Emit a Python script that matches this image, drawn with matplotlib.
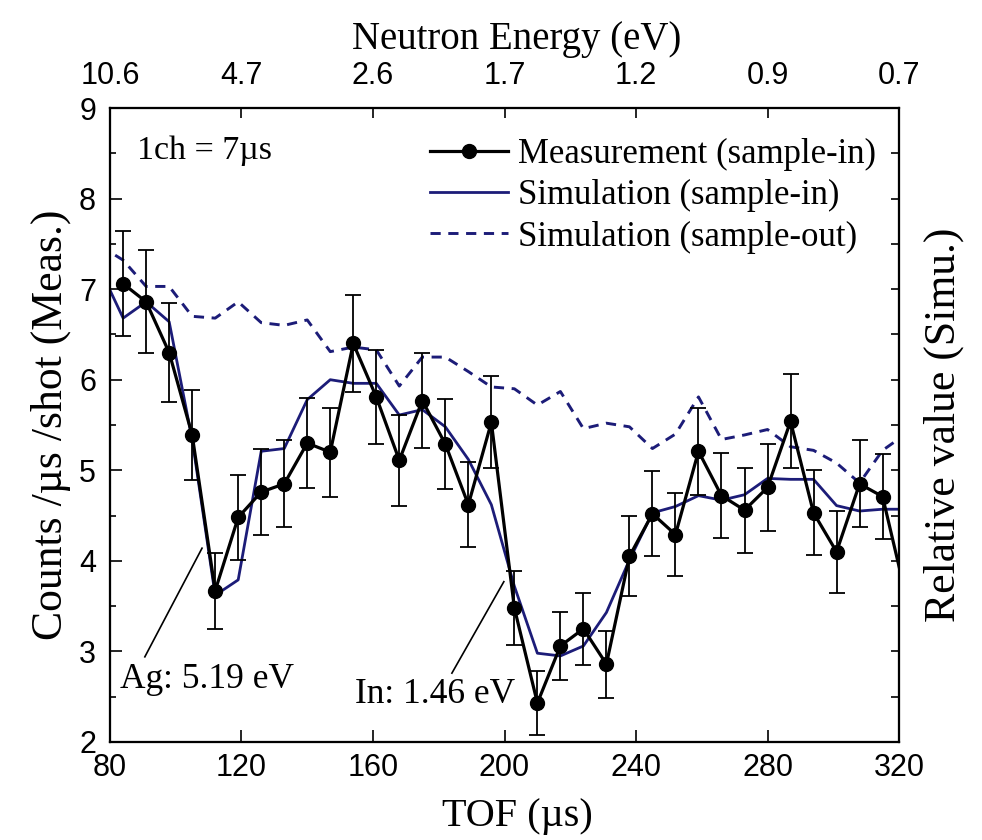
import matplotlib
matplotlib.use("Agg")
import matplotlib.pyplot as plt
from matplotlib.lines import Line2D

# measured spectrum, 1 channel = 7 us
tof_meas = [84, 91, 98, 105, 112, 119, 126, 133, 140, 147, 154, 161, 168, 175,
            182, 189, 196, 203, 210, 217, 224, 231, 238, 245, 252, 259, 266,
            273, 280, 287, 294, 301, 308, 315, 322]
counts_meas = [7.06, 6.86, 6.30, 5.39, 3.67, 4.48, 4.76, 4.85, 5.30, 5.20, 6.40,
               5.81, 5.11, 5.77, 5.29, 4.62, 5.53, 3.48, 2.43, 3.06, 3.25, 2.86,
               4.05, 4.52, 4.29, 5.21, 4.72, 4.56, 4.81, 5.54, 4.53, 4.10, 4.85,
               4.71, 3.63]
err_meas = [0.58, 0.57, 0.55, 0.50, 0.42, 0.47, 0.48, 0.48, 0.50, 0.49, 0.54,
            0.52, 0.50, 0.52, 0.50, 0.47, 0.51, 0.41, 0.35, 0.38, 0.40, 0.37,
            0.44, 0.47, 0.46, 0.48, 0.47, 0.47, 0.48, 0.52, 0.47, 0.45, 0.48,
            0.47, 0.42]

# simulations (relative value)
tof_sim = [77, 84, 91, 98, 105, 112, 119, 126, 133, 140, 147, 154, 161, 168,
           175, 182, 189, 196, 203, 210, 217, 224, 231, 238, 245, 252, 259,
           266, 273, 280, 287, 294, 301, 308, 315, 322]
sim_in = [7.22, 6.68, 6.86, 6.64, 5.34, 3.62, 3.79, 5.21, 5.24, 5.78, 6.00,
          5.96, 5.96, 5.61, 5.67, 5.48, 5.12, 4.62, 3.72, 2.98, 2.95, 3.06,
          3.43, 4.01, 4.53, 4.60, 4.72, 4.67, 4.73, 4.91, 4.90, 4.90, 4.61,
          4.55, 4.57, 4.57]
sim_out = [7.48, 7.32, 7.03, 7.03, 6.70, 6.68, 6.86, 6.63, 6.60, 6.66, 6.31,
           6.36, 6.33, 5.93, 6.25, 6.25, 6.09, 5.92, 5.90, 5.72, 5.87, 5.46,
           5.52, 5.48, 5.24, 5.40, 5.81, 5.34, 5.39, 5.45, 5.26, 5.22, 5.08,
           4.86, 5.22, 5.40]

tof_ticks = [80, 120, 160, 200, 240, 280, 320]
energy_labels = ["10.6", "4.7", "2.6", "1.7", "1.2", "0.9", "0.7"]

SERIF = ["Liberation Serif", "DejaVu Serif"]
SANS = ["Liberation Sans", "DejaVu Sans"]
NAVY = "#1c1c78"
DASH = (0, (3.5, 2.6))

plt.rcParams["font.family"] = SANS
plt.rcParams["axes.linewidth"] = 1.5

fig = plt.figure(figsize=(9.82, 8.40), dpi=100)
ax = fig.add_axes([0.112, 0.1167, 0.8035, 0.7547])

ax.plot(tof_sim, sim_out, color=NAVY, lw=2.1, ls=DASH)
ax.plot(tof_sim, sim_in, color=NAVY, lw=2.0)
ax.errorbar(tof_meas, counts_meas, yerr=err_meas, fmt="o-", color="black",
            ms=10, lw=2.3, elinewidth=1.3, capsize=5.5, capthick=1.3)

ax.set_xlim(80, 320)
ax.set_ylim(2, 9)
ax.set_xticks(tof_ticks)
ax.set_yticks(range(2, 10))
ax.set_yticks([2.5 + i for i in range(7)], minor=True)
ax.tick_params(axis="both", which="major", direction="in", length=8.5,
               width=1.2, labelsize=22)
ax.tick_params(axis="y", which="minor", direction="in", length=4.5, width=1.2)
ax.tick_params(axis="x", pad=8)
ax.tick_params(axis="y", pad=10)

ax.set_xlabel("TOF (\u00b5s)", fontsize=29, family=SERIF, labelpad=11)
ax.xaxis.label.set_x(0.516)
ax.set_ylabel("Counts /\u00b5s /shot (Meas.)", fontsize=31.5, family=SERIF,
              labelpad=6)

# right axis: relative scale for the simulations, no numbers
axr = ax.twinx()
axr.set_ylim(2, 9)
axr.set_yticks([2 + 0.5 * i for i in range(15)])
axr.set_yticklabels([])
axr.tick_params(axis="y", direction="in", length=6, width=1.2)
axr.set_ylabel("Relative value (Simu.)", fontsize=31.5, family=SERIF,
               labelpad=14)

# top axis: neutron energy at the TOF ticks
axt = ax.twiny()
axt.set_xlim(80, 320)
axt.set_xticks(tof_ticks)
axt.set_xticklabels(energy_labels)
axt.tick_params(axis="x", direction="in", length=7, width=1.2, labelsize=22,
                pad=12)
axt.set_xlabel("Neutron Energy (eV)", fontsize=28, family=SERIF, labelpad=9)
axt.xaxis.label.set_x(0.516)

ax.text(88.2, 8.44, "1ch = 7\u00b5s", fontsize=24.5, family=SERIF,
        va="baseline")

ax.plot([90.6, 108.0], [2.94, 4.14], color="black", lw=1.2)
ax.text(83.0, 2.60, "Ag: 5.19 eV", fontsize=25.5, family=SERIF, va="baseline")
ax.plot([184.0, 199.8], [2.76, 3.77], color="black", lw=1.2)
ax.text(154.5, 2.43, "In: 1.46 eV", fontsize=25.5, family=SERIF, va="baseline")

handles = [
    Line2D([], [], color="black", lw=2.3, marker="o", ms=10),
    Line2D([], [], color=NAVY, lw=2.0),
    Line2D([], [], color=NAVY, lw=2.1, ls=DASH),
]
labels = ["Measurement (sample-in)", "Simulation (sample-in)",
          "Simulation (sample-out)"]
ax.legend(handles, labels, loc="upper left", bbox_to_anchor=(0.4056, 0.953),
          frameon=False, borderaxespad=0, borderpad=0, handlelength=2.25,
          handletextpad=0.29, labelspacing=0.24,
          prop={"family": SERIF, "size": 25})

fig.savefig("out.png", dpi=100)
